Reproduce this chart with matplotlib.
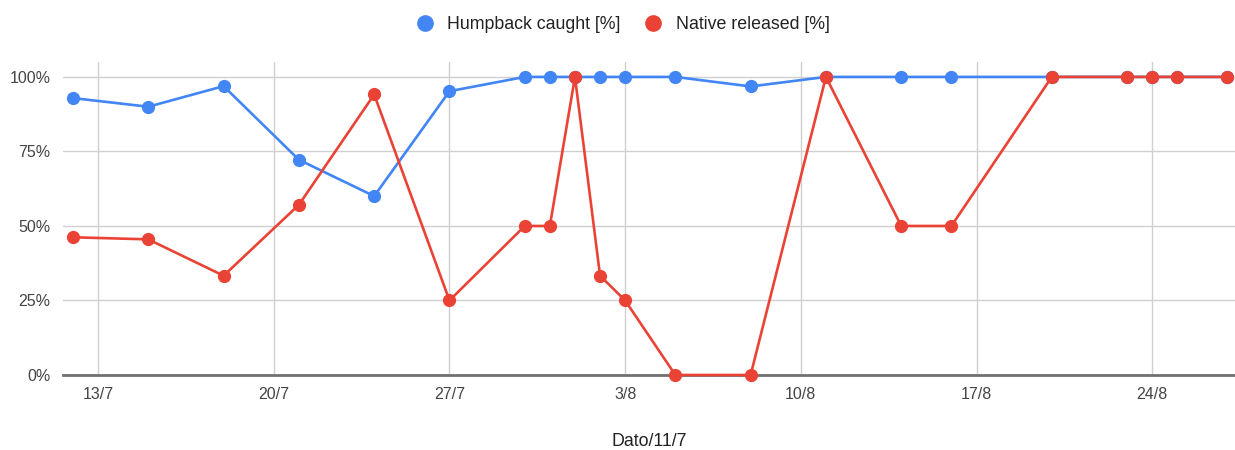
import datetime as dt

import matplotlib

matplotlib.use("Agg")

import matplotlib.dates as mdates
import matplotlib.pyplot as plt
from matplotlib.lines import Line2D
from matplotlib.ticker import FuncFormatter

YEAR = 2023

dates = [
    (12, 7), (15, 7), (18, 7), (21, 7), (24, 7), (27, 7), (30, 7), (31, 7),
    (1, 8), (2, 8), (3, 8), (5, 8), (8, 8), (11, 8), (14, 8), (16, 8),
    (20, 8), (23, 8), (24, 8), (25, 8), (27, 8),
]
humpback_caught = [
    92.9, 90.0, 96.9, 72.2, 60.0, 95.2, 100, 100,
    100, 100, 100, 100, 96.8, 100, 100, 100,
    100, 100, 100, 100, 100,
]
native_released = [
    46.2, 45.5, 33.3, 57.1, 94.1, 25.0, 50.0, 50.0,
    100, 33.3, 25.0, 0, 0, 100, 50.0, 50.0,
    100, 100, 100, 100, 100,
]
tick_dates = [(13, 7), (20, 7), (27, 7), (3, 8), (10, 8), (17, 8), (24, 8)]
y_ticks = [0, 25, 50, 75, 100]

BLUE = "#4285F4"
RED = "#EA4335"
TEXT = "#444444"
FONT = ["Liberation Sans", "DejaVu Sans"]

plt.rcParams["font.family"] = FONT


def _to_date(day_month: tuple[int, int]) -> dt.datetime:
    day, month = day_month
    return dt.datetime(YEAR, month, day)


x = [_to_date(d) for d in dates]

fig = plt.figure(figsize=(12.35, 4.5), dpi=100)
ax = fig.add_axes([0.051, 0.1667, 0.949, 0.6955])

for values, color in ((humpback_caught, BLUE), (native_released, RED)):
    ax.plot(
        x,
        values,
        color=color,
        linewidth=1.9,
        marker="o",
        markersize=8.5,
        clip_on=False,
        zorder=3,
    )

ax.set_xlim(_to_date((12, 7)) - dt.timedelta(days=0.4), _to_date((27, 8)) + dt.timedelta(days=0.3))
ax.set_ylim(0, 105)

ax.set_xticks([_to_date(d) for d in tick_dates])
ax.xaxis.set_major_formatter(
    FuncFormatter(lambda v, _: f"{mdates.num2date(v).day}/{mdates.num2date(v).month}")
)
ax.set_yticks(y_ticks)
ax.yaxis.set_major_formatter(FuncFormatter(lambda v, _: f"{v:.0f}%"))

ax.tick_params(axis="both", length=0, labelsize=11.5, colors=TEXT)
ax.tick_params(axis="x", pad=9)
ax.tick_params(axis="y", pad=9)

ax.grid(True, color="#d0d0d0", linewidth=1.0, zorder=0)
ax.set_axisbelow(True)
for name in ("top", "right", "left"):
    ax.spines[name].set_visible(False)
ax.spines["bottom"].set_color("#707070")
ax.spines["bottom"].set_linewidth(2.0)
ax.spines["bottom"].set_zorder(2)

fig.text(0.526, 0.018, "Dato/11/7", ha="center", va="center", fontsize=12.8, color="#222222")

handles = [
    Line2D([], [], color=BLUE, marker="o", linestyle="none", markersize=11),
    Line2D([], [], color=RED, marker="o", linestyle="none", markersize=11),
]
fig.legend(
    handles,
    ["Humpback caught [%]", "Native released [%]"],
    loc="center",
    bbox_to_anchor=(0.505, 0.946),
    ncol=2,
    frameon=False,
    fontsize=12.8,
    handlelength=0.8,
    handletextpad=0.85,
    columnspacing=1.45,
    labelcolor="#222222",
)

fig.savefig("out.png", dpi=100)
plt.close(fig)
